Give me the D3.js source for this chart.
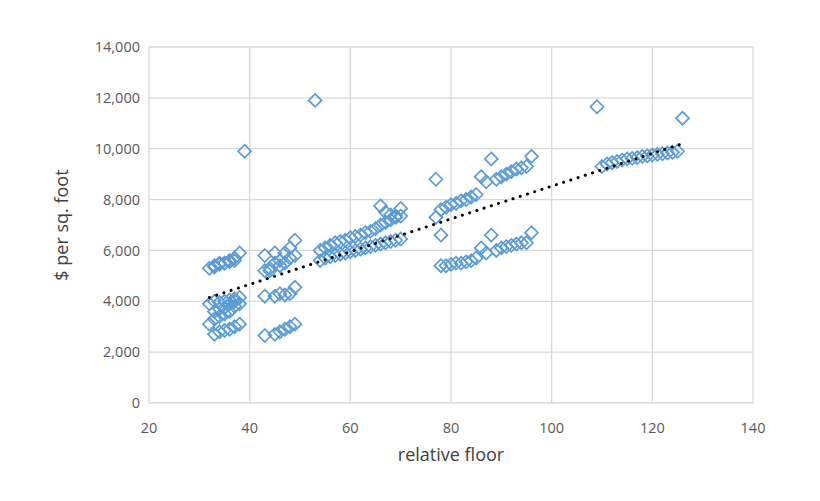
<!DOCTYPE html>
<html><head><meta charset="utf-8">
<script src="https://cdn.jsdelivr.net/npm/d3@7"></script>
<style>body{margin:0;background:#fff;font-family:"Open Sans",Arial,sans-serif}</style>
</head><body><div id="chart"></div>
<script>
// relative floor values and $ per sq. foot
const floorA = [32,33,34,35,36,37,38,33,34,35,36,37,32,33,34,35,36,37,38,32,33,34,35,36,37,38,33,34,35,36,37,38,33,34,35,36,37];
const priceA = [5300,5400,5450,5500,5550,5600,5900,5350,5500,5500,5600,5700,3900,4000,3950,4000,4050,4100,4150,3100,3300,3400,3500,3600,3800,3900,2700,2800,2850,2900,3000,3100,3600,3700,3750,3900,4000];
const floorB = [39,43,44,45,46,47,48,49,43,44,45,46,47,48,49,43,45,46,47,48,49,43,45,46,47,48,49,53];
const priceB = [9900,5800,5200,5900,5400,5900,6100,6400,5200,5300,5500,5600,5500,5700,5800,4200,4200,4300,4250,4300,4550,2650,2700,2800,2900,3000,3100,11900];
const floorC = [54,55,56,57,58,59,60,61,62,63,64,65,66,67,68,69,70,54,55,56,57,58,59,60,61,62,63,64,65,66,67,68,69,70,66,67,68,69,70];
const priceC = [5600,5700,5750,5800,5850,5900,5950,6000,6050,6100,6150,6200,6250,6300,6350,6400,6450,6000,6100,6200,6300,6350,6400,6500,6550,6600,6700,6750,6850,7000,7100,7200,7300,7350,7750,7500,7400,7350,7650];
const floorD = [77,77,78,79,80,81,82,83,84,85,86,87,88,89,90,91,92,93,94,95,96,78,78,79,80,81,82,83,84,85,86,87,88,89,90,91,92,93,94,95,96];
const priceD = [8800,7300,7600,7700,7800,7850,7950,8000,8100,8200,8900,8700,9600,8800,8900,9000,9100,9200,9250,9300,9700,6600,5400,5400,5450,5500,5500,5550,5600,5700,6100,5900,6600,6000,6100,6150,6200,6250,6300,6300,6700];
const floorE = [109,126,110,111,112,113,114,115,116,117,118,119,120,121,122,123,124,125];
const priceE = [11650,11200,9300,9400,9450,9500,9550,9600,9620,9650,9700,9720,9750,9780,9800,9830,9860,9900];
const trendX = [32, 126];
const trendY = [4150, 10200];
const xTicks = [20,40,60,80,100,120,140];
const yTicks = [0,2000,4000,6000,8000,10000,12000,14000];

const floors = [...floorA, ...floorB, ...floorC, ...floorD, ...floorE];
const prices = [...priceA, ...priceB, ...priceC, ...priceD, ...priceE];
const points = floors.map((f, i) => ({x: f, y: prices[i]}));

const width = 820, height = 501;
const margin = {top: 47, left: 149, right: 67, bottom: 98};
const svg = d3.select('#chart').append('svg').attr('width', width).attr('height', height);

const x = d3.scaleLinear().domain([20, 140]).range([margin.left, width - margin.right]);
const y = d3.scaleLinear().domain([0, 14000]).range([height - margin.bottom, margin.top]);

// gridlines
svg.append('g').selectAll('line').data(yTicks).join('line')
  .attr('x1', x(20)).attr('x2', x(140)).attr('y1', d => y(d)).attr('y2', d => y(d))
  .attr('stroke', '#d9d9d9').attr('stroke-width', 1.3);
svg.append('g').selectAll('line').data(xTicks).join('line')
  .attr('y1', y(0)).attr('y2', y(14000)).attr('x1', d => x(d)).attr('x2', d => x(d))
  .attr('stroke', '#d9d9d9').attr('stroke-width', 1.3);

// axes labels
svg.append('g').selectAll('text').data(yTicks).join('text')
  .attr('x', x(20) - 9).attr('y', d => y(d)).attr('dy', '0.35em')
  .attr('text-anchor', 'end').style('font-size', '14.5px').style('fill', '#595959')
  .text(d => d3.format(',')(d));
svg.append('g').selectAll('text').data(xTicks).join('text')
  .attr('x', d => x(d)).attr('y', y(0) + 30)
  .attr('text-anchor', 'middle').style('font-size', '14.5px').style('fill', '#595959')
  .text(d => d);

svg.append('text').attr('x', x(80)).attr('y', 461).attr('text-anchor', 'middle')
  .style('font-size', '18px').style('fill', '#404040').text('relative floor');
svg.append('text').attr('transform', `translate(68,${y(7000)}) rotate(-90)`)
  .attr('text-anchor', 'middle').style('font-size', '18px').style('fill', '#404040').text('$ per sq. foot');

// points
const s = 6.5;
svg.append('g').selectAll('path').data(points).join('path')
  .attr('d', `M0,${-s}L${s},0L0,${s}L${-s},0Z`)
  .attr('transform', d => `translate(${x(d.x)},${y(d.y)})`)
  .attr('fill', 'none').attr('stroke', '#5b9bd5').attr('stroke-width', 1.7);

// trendline
svg.append('line')
  .attr('x1', x(trendX[0])).attr('y1', y(trendY[0]))
  .attr('x2', x(trendX[1])).attr('y2', y(trendY[1]))
  .attr('stroke', '#000').attr('stroke-width', 3).attr('stroke-dasharray', '0.1 7.5')
  .attr('stroke-linecap', 'round');
</script></body></html>
